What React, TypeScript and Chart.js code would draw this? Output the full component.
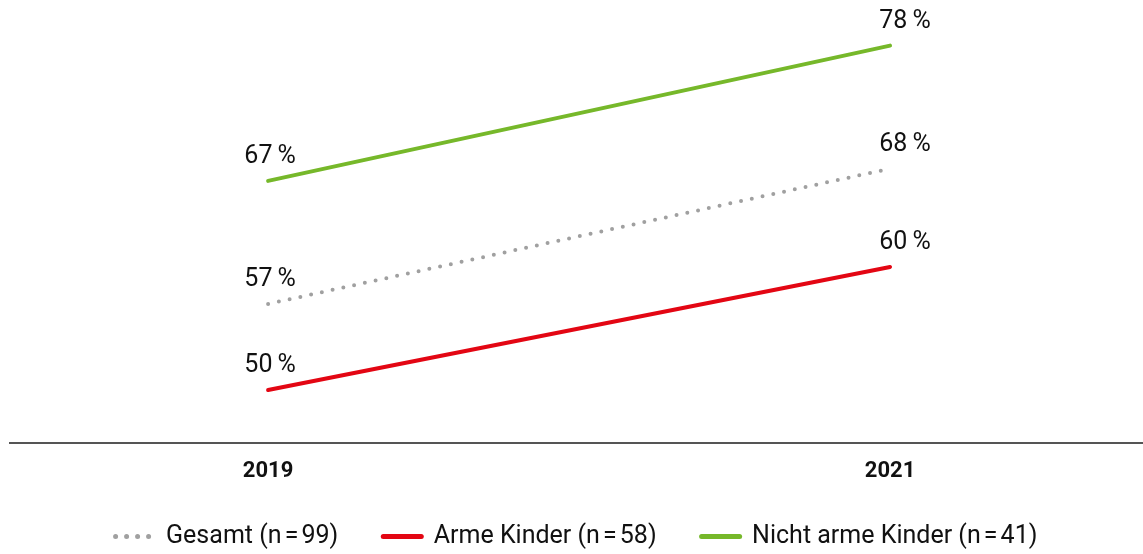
import React, { useEffect, useRef } from "react";
import { Chart, registerables } from "chart.js";

Chart.register(...registerables);

const years = [2019, 2021];
const gesamt = [57, 68];
const arm = [50, 60];
const nichtArm = [67, 78];
const seriesLabels = [
  "Gesamt (n\u202F=\u202F99)",
  "Arme Kinder (n\u202F=\u202F58)",
  "Nicht arme Kinder (n\u202F=\u202F41)",
];
const tickYears = [2019, 2021];

const FONT = "Roboto, 'Liberation Sans', sans-serif";

const valueLabels = {
  id: "valueLabels",
  afterDatasetsDraw(chart: any) {
    const ctx = chart.ctx;
    ctx.save();
    ctx.font = `25px ${FONT}`;
    ctx.fillStyle = "#111";
    ctx.textAlign = "center";
    ctx.textBaseline = "alphabetic";
    chart.data.datasets.forEach((ds: any, di: number) => {
      const meta = chart.getDatasetMeta(di);
      meta.data.forEach((pt: any, i: number) => {
        const v = ds.data[i].y;
        const dx = i === 0 ? 2 : 15;
        ctx.fillText(`${v}\u2009%`, pt.x + dx, pt.y - 18);
      });
    });
    ctx.restore();
  },
};

export default function App() {
  const ref = useRef<HTMLCanvasElement>(null);
  useEffect(() => {
    const mk = (vals: number[]) => years.map((y, i) => ({ x: y, y: vals[i] }));
    const chart = new Chart(ref.current!, {
      type: "line",
      data: {
        datasets: [
          {
            label: seriesLabels[0],
            data: mk(gesamt),
            borderColor: "#a0a0a0",
            backgroundColor: "#a0a0a0",
            borderWidth: 4,
            borderDash: [0, 11],
            borderCapStyle: "round",
            pointRadius: 0,
            pointStyle: "line",
          },
          {
            label: seriesLabels[1],
            data: mk(arm),
            borderColor: "#e30613",
            backgroundColor: "#e30613",
            borderWidth: 4,
            borderCapStyle: "round",
            pointRadius: 0,
            pointStyle: "line",
          },
          {
            label: seriesLabels[2],
            data: mk(nichtArm),
            borderColor: "#76b82a",
            backgroundColor: "#76b82a",
            borderWidth: 4,
            borderCapStyle: "round",
            pointRadius: 0,
            pointStyle: "line",
          },
        ],
      },
      options: {
        animation: false,
        responsive: false,
        layout: { padding: { left: 10, right: 0, top: 0, bottom: 0 } },
        scales: {
          x: {
            type: "linear",
            min: 2018.17,
            max: 2021.8135,
            afterBuildTicks: (s: any) => {
              s.ticks = tickYears.map((v) => ({ value: v }));
            },
            afterFit: (s: any) => {
              s.height = 36;
            },
            grid: { display: false, drawTicks: false },
            border: { display: true, color: "#555", width: 2 },
            ticks: {
              padding: 15,
              color: "#111",
              font: { family: FONT, size: 22, weight: "bold" },
              callback: (v: any) => String(v),
            },
          },
          y: {
            display: false,
            min: 45.69,
            max: 81.71,
          },
        },
        plugins: {
          tooltip: { enabled: false },
          legend: {
            position: "bottom",
            labels: {
              usePointStyle: true,
              pointStyleWidth: 38,
              padding: 45,
              color: "#111",
              font: { family: FONT, size: 25 },
              generateLabels: (c: any) => {
                const items = (Chart.defaults as any).plugins.legend.labels.generateLabels(c);
                items.forEach((it: any, i: number) => {
                  const ds: any = c.data.datasets[i];
                  it.lineDash = ds.borderDash || [];
                  it.lineCap = "round";
                  it.lineWidth = 5;
                  it.strokeStyle = ds.borderColor;
                  it.fillStyle = ds.borderColor;
                  it.pointStyle = "line";
                });
                return items;
              },
            },
          },
        },
      },
      plugins: [valueLabels],
    });
    return () => chart.destroy();
  }, []);
  return (
    <div style={{ position: "absolute", left: 0, top: 0, width: 1143, height: 554, overflow: "hidden" }}>
      <canvas ref={ref} width={1143} height={559} style={{ display: "block" }} />
    </div>
  );
}
